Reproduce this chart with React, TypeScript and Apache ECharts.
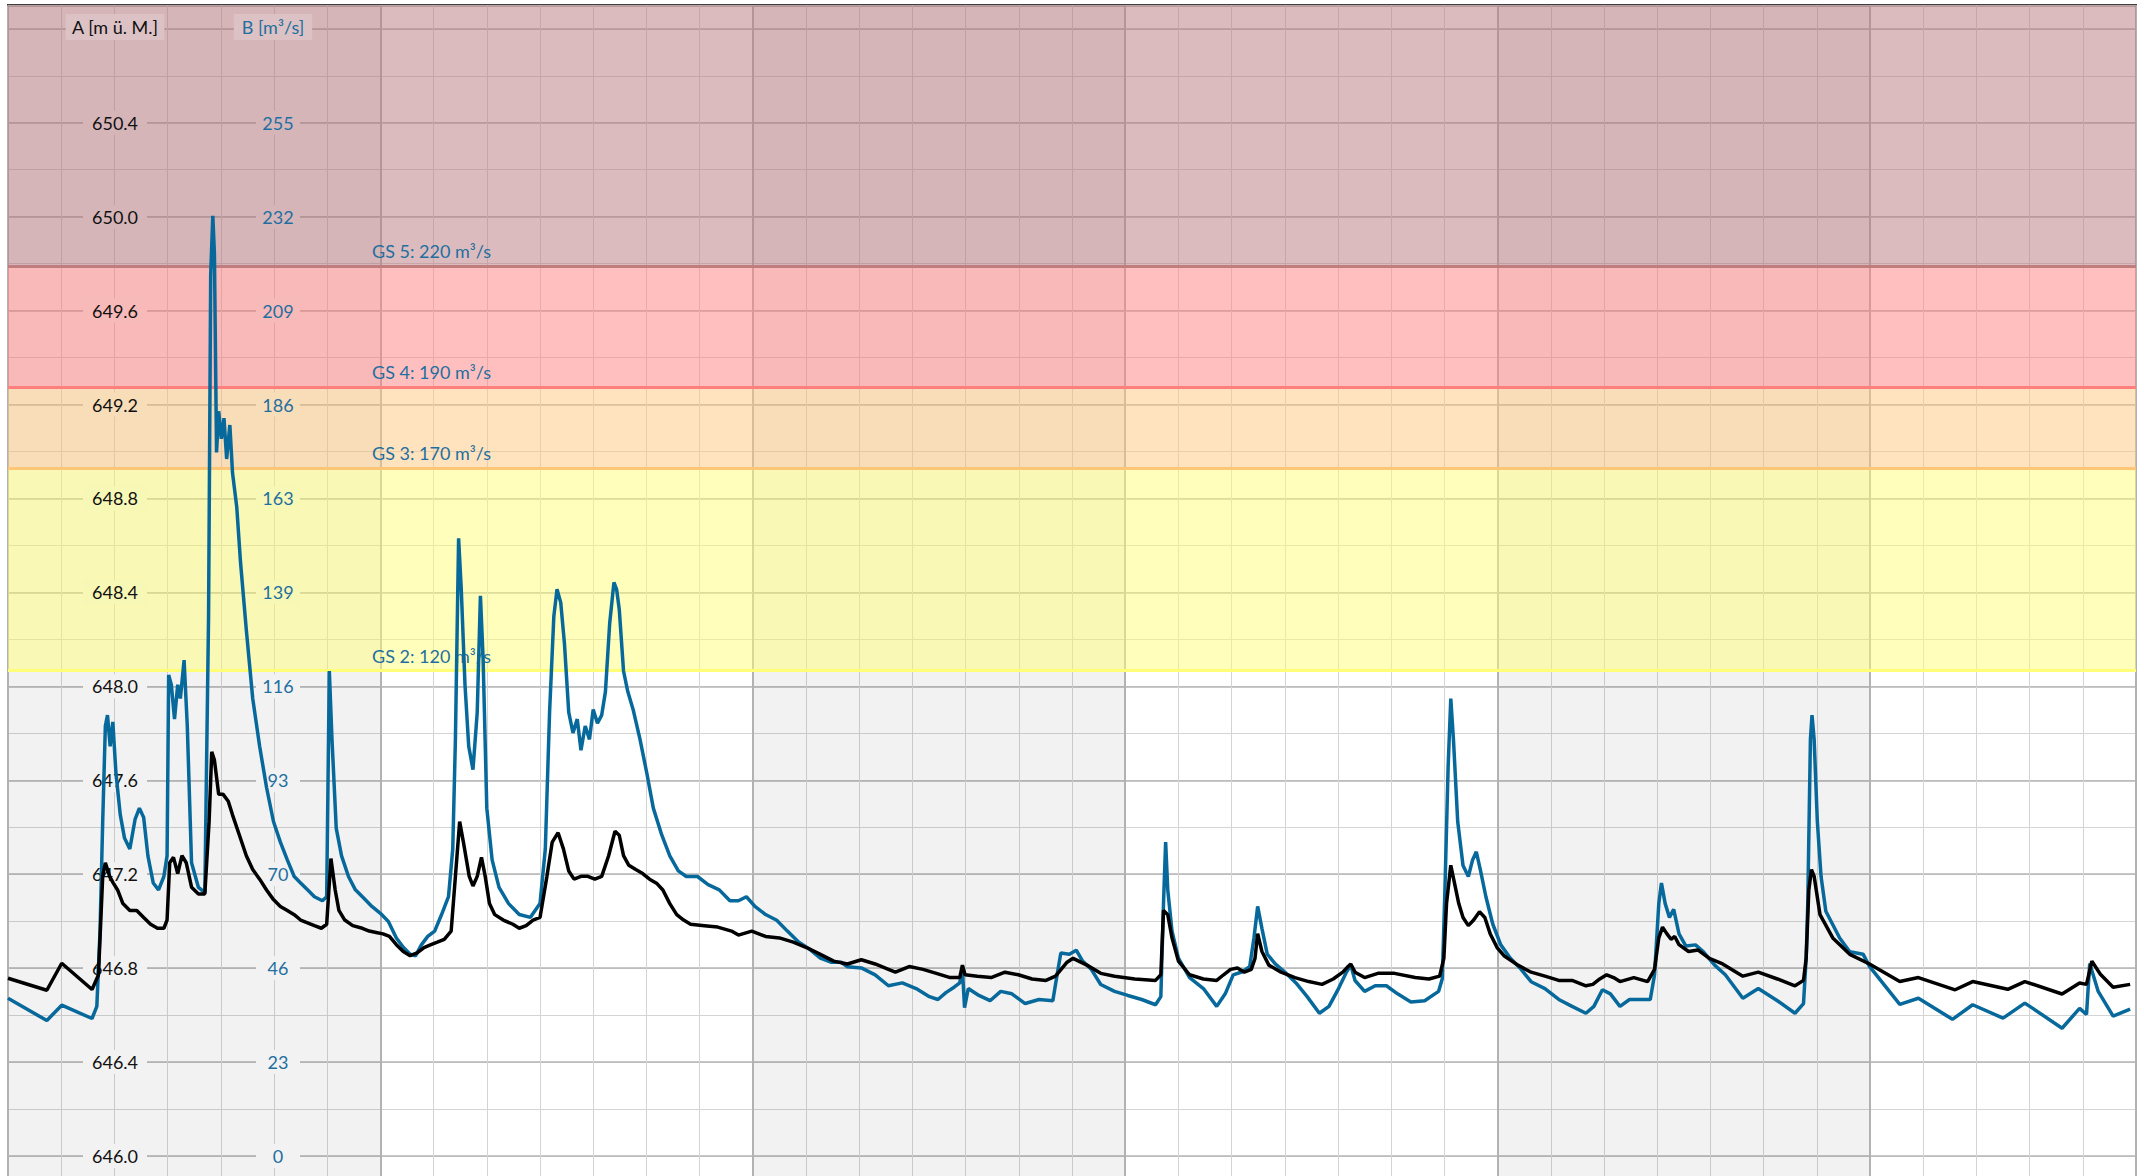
import React, { useEffect, useRef } from "react";
import * as echarts from "echarts";

// ---- data (x = days since start of the shown period) ----
const A_DAYS = [
  0.0, 0.73, 1.01, 1.58, 1.7, 1.78, 1.83, 1.91, 1.98, 2.06, 2.16, 2.29, 2.42, 2.55, 2.68, 2.81, 2.93, 2.99,
  3.04, 3.11, 3.19, 3.27, 3.35, 3.45, 3.58, 3.7, 3.78, 3.83, 3.88, 3.96, 4.04, 4.14, 4.22, 4.35, 4.48, 4.6,
  4.73, 4.86, 4.99, 5.12, 5.25, 5.38, 5.5, 5.63, 5.76, 5.89, 5.99, 6.07, 6.15, 6.22, 6.33, 6.48, 6.66, 6.79,
  6.92, 7.05, 7.17, 7.3, 7.43, 7.56, 7.69, 7.82, 7.95, 8.07, 8.2, 8.33, 8.41, 8.49, 8.56, 8.67, 8.74, 8.82,
  8.9, 8.97, 9.05, 9.15, 9.31, 9.49, 9.61, 9.74, 9.87, 10.0, 10.13, 10.23, 10.34, 10.44, 10.54, 10.64, 10.77,
  10.9, 11.03, 11.16, 11.29, 11.41, 11.49, 11.57, 11.67, 11.8, 11.93, 12.06, 12.19, 12.31, 12.44, 12.57,
  12.7, 12.83, 13.09, 13.34, 13.6, 13.73, 13.98, 14.24, 14.5, 14.76, 15.01, 15.27, 15.52, 15.78, 16.04,
  16.3, 16.55, 16.68, 16.94, 17.2, 17.45, 17.71, 17.89, 17.94, 17.99, 18.22, 18.48, 18.74, 18.99, 19.25,
  19.51, 19.69, 19.9, 20.02, 20.28, 20.54, 20.8, 21.18, 21.57, 21.67, 21.72, 21.8, 21.88, 22.0, 22.21,
  22.47, 22.72, 22.85, 22.98, 23.11, 23.24, 23.37, 23.44, 23.49, 23.57, 23.7, 23.93, 24.19, 24.45, 24.7,
  24.91, 25.09, 25.19, 25.24, 25.32, 25.5, 25.75, 26.06, 26.45, 26.71, 26.91, 26.99, 27.04, 27.12, 27.19,
  27.27, 27.35, 27.45, 27.55, 27.66, 27.76, 27.86, 27.99, 28.12, 28.38, 28.63, 28.89, 29.15, 29.4, 29.66,
  29.79, 29.92, 30.05, 30.18, 30.3, 30.56, 30.82, 30.95, 31.03, 31.1, 31.18, 31.26, 31.33, 31.41, 31.59,
  31.77, 31.98, 32.23, 32.61, 32.9, 33.26, 33.59, 33.75, 33.8, 33.85, 33.9, 33.95, 34.06, 34.3, 34.62,
  34.99, 35.56, 35.91, 36.6, 36.93, 37.59, 37.91, 38.61, 38.94, 39.07, 39.17, 39.33, 39.57, 39.89,
];
const A_LEVEL = [
  646.757, 646.706, 646.821, 646.709, 646.771, 647.191, 647.249, 647.191, 647.162, 647.133, 647.075, 647.046,
  647.046, 647.016, 646.987, 646.97, 646.97, 647.005, 647.249, 647.272, 647.203, 647.279, 647.249, 647.145,
  647.116, 647.116, 647.424, 647.721, 647.686, 647.541, 647.541, 647.511, 647.453, 647.366, 647.279, 647.22,
  647.179, 647.133, 647.092, 647.063, 647.046, 647.028, 647.005, 646.993, 646.981, 646.97, 646.987, 647.267,
  647.133, 647.046, 647.005, 646.981, 646.97, 646.958, 646.952, 646.946, 646.935, 646.9, 646.871, 646.853,
  646.865, 646.888, 646.9, 646.911, 646.923, 646.958, 647.191, 647.424, 647.337, 647.191, 647.15, 647.191,
  647.272, 647.191, 647.075, 647.028, 647.005, 646.987, 646.97, 646.981, 647.005, 647.016, 647.191, 647.337,
  647.377, 647.308, 647.214, 647.179, 647.191, 647.191, 647.179, 647.191, 647.279, 647.383, 647.366, 647.279,
  647.238, 647.22, 647.203, 647.179, 647.162, 647.133, 647.075, 647.028, 647.005, 646.987, 646.981, 646.975,
  646.958, 646.941, 646.958, 646.935, 646.929, 646.911, 646.888, 646.859, 646.83, 646.818, 646.836, 646.818,
  646.795, 646.783, 646.807, 646.795, 646.778, 646.76, 646.76, 646.813, 646.772, 646.766, 646.76, 646.783,
  646.772, 646.754, 646.748, 646.766, 646.824, 646.842, 646.813, 646.778, 646.766, 646.754, 646.748, 646.772,
  647.046, 647.028, 646.929, 646.83, 646.772, 646.754, 646.748, 646.772, 646.795, 646.801, 646.783, 646.795,
  646.842, 646.947, 646.871, 646.813, 646.783, 646.76, 646.743, 646.731, 646.754, 646.783, 646.807, 646.818,
  646.783, 646.76, 646.778, 646.778, 646.76, 646.754, 646.766, 646.842, 647.075, 647.238, 647.162, 647.075,
  647.016, 646.981, 647.005, 647.04, 647.016, 646.947, 646.888, 646.853, 646.813, 646.783, 646.766, 646.748,
  646.748, 646.725, 646.731, 646.754, 646.772, 646.76, 646.743, 646.76, 646.743, 646.795, 646.929, 646.975,
  646.947, 646.923, 646.935, 646.9, 646.871, 646.877, 646.842, 646.818, 646.766, 646.783, 646.754, 646.725,
  646.748, 646.842, 647.133, 647.22, 647.191, 647.028, 646.929, 646.859, 646.818, 646.743, 646.76, 646.708,
  646.743, 646.71, 646.743, 646.69, 646.737, 646.731, 646.83, 646.774, 646.719, 646.731,
];

const B_DAYS = [
  0.0, 0.73, 1.01, 1.58, 1.67, 1.73, 1.78, 1.83, 1.87, 1.92, 1.97, 2.03, 2.11, 2.19, 2.29, 2.39, 2.47, 2.55,
  2.63, 2.73, 2.83, 2.93, 2.99, 3.02, 3.07, 3.13, 3.19, 3.24, 3.31, 3.37, 3.45, 3.58, 3.7, 3.77, 3.81, 3.85,
  3.88, 3.92, 3.96, 4.01, 4.06, 4.11, 4.17, 4.22, 4.3, 4.37, 4.48, 4.6, 4.73, 4.86, 4.99, 5.12, 5.25, 5.38,
  5.5, 5.63, 5.76, 5.91, 5.99, 6.04, 6.09, 6.17, 6.27, 6.4, 6.53, 6.69, 6.84, 7.0, 7.15, 7.3, 7.43, 7.56,
  7.66, 7.77, 7.89, 8.02, 8.15, 8.28, 8.36, 8.41, 8.47, 8.52, 8.59, 8.66, 8.74, 8.82, 8.88, 8.93, 9.0, 9.1,
  9.23, 9.41, 9.61, 9.82, 10.0, 10.1, 10.18, 10.26, 10.32, 10.39, 10.46, 10.54, 10.62, 10.7, 10.77, 10.85,
  10.93, 11.0, 11.08, 11.16, 11.23, 11.31, 11.39, 11.44, 11.49, 11.57, 11.65, 11.75, 11.88, 12.01, 12.13,
  12.29, 12.44, 12.6, 12.75, 12.96, 13.16, 13.37, 13.57, 13.73, 13.88, 14.04, 14.24, 14.45, 14.65, 14.86,
  15.06, 15.27, 15.48, 15.66, 15.78, 16.04, 16.3, 16.55, 16.81, 17.07, 17.32, 17.48, 17.63, 17.79, 17.89,
  17.94, 17.98, 18.05, 18.25, 18.46, 18.66, 18.87, 19.12, 19.38, 19.64, 19.72, 19.79, 19.95, 20.08, 20.2,
  20.36, 20.54, 20.8, 21.05, 21.31, 21.57, 21.67, 21.72, 21.76, 21.8, 21.88, 22.0, 22.21, 22.47, 22.72,
  22.88, 23.03, 23.19, 23.34, 23.42, 23.49, 23.57, 23.67, 23.82, 24.0, 24.21, 24.42, 24.65, 24.83, 25.01,
  25.16, 25.24, 25.32, 25.5, 25.7, 25.91, 26.12, 26.37, 26.63, 26.89, 26.96, 27.01, 27.07, 27.12, 27.17,
  27.25, 27.35, 27.45, 27.53, 27.6, 27.68, 27.78, 27.91, 28.06, 28.24, 28.42, 28.63, 28.89, 29.15, 29.4,
  29.66, 29.81, 29.97, 30.12, 30.3, 30.48, 30.69, 30.87, 30.95, 31.03, 31.08, 31.15, 31.23, 31.31, 31.41,
  31.54, 31.72, 31.87, 32.08, 32.28, 32.61, 32.9, 33.26, 33.59, 33.75, 33.8, 33.83, 33.88, 33.91, 33.95,
  34.01, 34.08, 34.17, 34.43, 34.62, 34.87, 34.99, 35.56, 35.91, 36.55, 36.93, 37.5, 37.91, 38.06, 38.61,
  38.94, 39.07, 39.13, 39.29, 39.57, 39.89,
];
const B_FLOW = [
  39.0, 33.5, 37.3, 34.0, 37.0, 55.6, 82.7, 106.3, 109.0, 101.3, 107.3, 94.5, 84.4, 78.6, 75.9, 83.3, 86.0,
  83.7, 74.2, 67.5, 65.8, 69.1, 74.2, 118.9, 116.5, 108.0, 116.5, 113.1, 122.6, 106.3, 72.5, 66.4, 65.1,
  133.4, 217.9, 232.4, 223.0, 173.9, 184.1, 177.3, 182.4, 172.3, 180.7, 168.9, 160.4, 146.9, 130.0, 113.1,
  101.3, 91.1, 82.7, 77.6, 73.2, 69.1, 67.5, 65.8, 64.1, 63.1, 64.1, 119.9, 103.0, 81.0, 74.2, 69.1, 65.8,
  63.7, 61.7, 60.0, 58.0, 53.9, 51.6, 49.9, 49.5, 52.2, 54.3, 55.6, 59.7, 64.1, 75.9, 103.0, 152.7, 140.1,
  116.5, 101.3, 95.5, 109.7, 138.5, 123.2, 86.0, 73.2, 66.4, 62.4, 59.7, 59.0, 62.4, 75.9, 109.7, 133.4,
  140.1, 136.8, 126.6, 109.7, 104.6, 108.0, 100.3, 106.3, 103.0, 110.4, 107.0, 109.0, 114.8, 131.7, 141.8,
  140.1, 135.1, 119.9, 114.8, 110.4, 103.0, 94.5, 86.0, 79.3, 74.2, 70.5, 69.1, 69.1, 67.1, 65.8, 63.1,
  63.1, 64.1, 61.7, 59.7, 58.3, 55.6, 52.9, 51.2, 48.9, 47.9, 47.9, 46.8, 46.5, 44.8, 42.1, 42.8, 41.4,
  39.4, 38.7, 40.4, 41.8, 42.8, 46.2, 36.7, 41.4, 39.7, 38.4, 40.7, 40.1, 37.7, 38.7, 38.4, 44.8, 50.2,
  49.9, 50.9, 48.2, 46.2, 42.4, 40.7, 39.7, 38.7, 37.4, 39.4, 62.4, 77.6, 65.8, 55.6, 48.9, 44.1, 41.4,
  37.0, 40.1, 44.8, 45.5, 46.8, 53.9, 61.7, 56.3, 49.9, 47.5, 45.5, 42.8, 39.4, 35.3, 37.0, 41.4, 45.5,
  47.2, 43.4, 40.7, 42.1, 42.1, 40.1, 38.1, 38.4, 40.7, 43.8, 65.8, 96.2, 113.1, 103.0, 82.7, 71.8, 69.1,
  73.2, 75.2, 70.5, 64.1, 57.3, 52.2, 48.9, 46.5, 43.1, 41.4, 38.7, 37.0, 35.3, 37.0, 41.1, 40.1, 37.0,
  38.7, 38.7, 38.7, 44.8, 62.4, 67.5, 62.4, 59.0, 61.0, 54.9, 51.9, 52.2, 50.5, 47.2, 44.8, 39.0, 41.4,
  38.4, 35.3, 37.7, 48.9, 62.4, 103.0, 109.0, 103.0, 82.7, 69.1, 60.5, 53.9, 50.5, 49.9, 46.9, 37.5, 39.0,
  33.8, 37.4, 34.1, 37.8, 36.5, 31.6, 36.5, 35.0, 47.6, 40.7, 34.6, 36.3,
];

// warning thresholds (m³/s)
const GS_LEVELS = [120, 170, 190, 220];
const GS_NAMES = ["GS 2", "GS 3", "GS 4", "GS 5"];
const GS_FILLS = [
  "rgba(255,255,120,0.5)",
  "rgba(255,200,128,0.5)",
  "rgba(255,128,128,0.5)",
  "rgba(185,120,128,0.5)",
];
const GS_LINES = ["#ffff78", "#ffc677", "#ff7f7f", "#bf7d7e"];

// axes
const A_MIN = 645.6;
const A_MAX = 650.9;
const A_STEP = 0.4;
const A_LABEL_TOP = 650.4;
const FACTOR = 58.05; // m³/s per m of the left scale, 646.0 m = 0 m³/s
const B_MIN = -23.22;
const B_MAX = 284.445;
const B_STEP = 23.22;
const B_LABEL_TOP = 256;
const DAY_MAX = 40;

const FONT = "Lato";

function bandKey(b: number) {
  if (b >= 220) return "p";
  if (b >= 190) return "r";
  if (b >= 170) return "o";
  if (b >= 120) return "y";
  return "g";
}

function richFor(color: string, width?: number) {
  const base: any = { color, fontFamily: FONT, fontSize: 18, padding: [3, 9], lineHeight: 20, align: "center" };
  if (width) base.width = width;
  return {
    g: { ...base, backgroundColor: "#f2f2f2" },
    y: { ...base, backgroundColor: "#f8f8b6" },
    o: { ...base, backgroundColor: "#f8ddb9" },
    r: { ...base, backgroundColor: "#f8b9b9" },
    p: { ...base, backgroundColor: "#d6b5b9" },
  };
}

export default function App() {
  const ref = useRef<HTMLDivElement>(null);

  useEffect(() => {
    if (!ref.current) return;
    const chart = echarts.init(ref.current, undefined, { renderer: "svg" });

    const hiddenAxis = {
      axisLine: { show: false },
      axisTick: { show: false },
      axisLabel: { show: false },
    };

    const option: any = {
      animation: false,
      grid: {
        left: 8,
        right: 8,
        top: 5.3,
        bottom: 0,
        show: true,
        borderColor: "#000",
        borderWidth: 2,
        backgroundColor: "#fff",
      },
      xAxis: [
        {
          type: "value",
          min: 0,
          max: DAY_MAX,
          interval: 1,
          ...hiddenAxis,
          splitLine: { show: true, lineStyle: { color: "#d4d4d4", width: 1 } },
        },
        {
          type: "value",
          min: 0,
          max: DAY_MAX,
          interval: 7,
          ...hiddenAxis,
          splitLine: { show: true, lineStyle: { color: "#b2b2b2", width: 2 } },
          splitArea: { show: true, areaStyle: { color: ["rgba(0,0,0,0.05)", "rgba(0,0,0,0)"] } },
        },
      ],
      yAxis: [
        {
          type: "value",
          min: A_MIN,
          max: A_MAX,
          interval: A_STEP / 2,
          ...hiddenAxis,
          splitLine: { show: true, lineStyle: { color: "#d4d4d4", width: 1 } },
        },
        {
          type: "value",
          min: A_MIN,
          max: A_MAX,
          interval: A_STEP,
          ...hiddenAxis,
          splitLine: { show: true, lineStyle: { color: "#b6b6b6", width: 1.5 } },
        },
        {
          type: "value",
          min: A_MIN,
          max: A_MAX,
          interval: A_STEP,
          position: "left",
          z: 1.8,
          axisLine: { show: false },
          axisTick: { show: false },
          splitLine: { show: false },
          axisLabel: {
            inside: true,
            margin: 107,
            align: "center",
            showMaxLabel: false,
            showMinLabel: false,
            formatter: (v: number) =>
              v > A_LABEL_TOP + 0.01 ? "" : `{${bandKey((v - 646) * FACTOR)}|${v.toFixed(1)}}`,
            rich: richFor("#111111"),
          },
        },
        {
          type: "value",
          min: B_MIN,
          max: B_MAX,
          interval: B_STEP,
          position: "left",
          z: 1.8,
          axisLine: { show: false },
          axisTick: { show: false },
          splitLine: { show: false },
          axisLabel: {
            inside: true,
            margin: 270,
            align: "center",
            showMaxLabel: false,
            showMinLabel: false,
            formatter: (v: number) => (v > B_LABEL_TOP ? "" : `{${bandKey(v)}|${Math.round(v)}}`),
            rich: richFor("#1f6fa0", 26),
          },
        },
      ],
      graphic: [
        {
          type: "text",
          x: 115,
          y: 27,
          z: 10,
          style: {
            text: "A [m ü. M.]",
            fill: "#111111",
            font: `18px ${FONT}`,
            align: "center",
            verticalAlign: "middle",
            backgroundColor: "#dcc2c4",
            padding: [4, 6],
          },
        },
        {
          type: "text",
          x: 273,
          y: 27,
          z: 10,
          style: {
            text: "B [m³/s]",
            fill: "#1f6fa0",
            font: `18px ${FONT}`,
            align: "center",
            verticalAlign: "middle",
            backgroundColor: "#dcc2c4",
            padding: [4, 8],
          },
        },
      ],
      series: [
        {
          type: "line",
          name: "B",
          xAxisIndex: 0,
          yAxisIndex: 3,
          data: B_DAYS.map((d, i) => [d, B_FLOW[i]]),
          showSymbol: false,
          symbol: "none",
          lineStyle: { color: "#07699b", width: 3.5 },
          z: 2,
          markArea: {
            silent: true,
            z: 1,
            data: GS_LEVELS.map((lv, i) => [
              { yAxis: lv, itemStyle: { color: GS_FILLS[i] } },
              { yAxis: i < GS_LEVELS.length - 1 ? GS_LEVELS[i + 1] : B_MAX },
            ]),
          },
          markLine: {
            silent: true,
            z: 1.5,
            symbol: "none",
            data: GS_LEVELS.map((lv, i) => ({
              yAxis: lv,
              lineStyle: { color: GS_LINES[i], width: 3, type: "solid" },
              label: {
                show: true,
                position: "insideStartTop",
                distance: [364, 6],
                formatter: `${GS_NAMES[i]}: ${lv} m³/s`,
                color: "#1f6fa0",
                fontFamily: FONT,
                fontSize: 18,
              },
            })),
          },
        },
        {
          type: "line",
          name: "A",
          xAxisIndex: 0,
          yAxisIndex: 2,
          data: A_DAYS.map((d, i) => [d, A_LEVEL[i]]),
          showSymbol: false,
          symbol: "none",
          lineStyle: { color: "#000000", width: 3.5 },
          z: 3,
        },
      ],
    };

    chart.setOption(option);
    return () => chart.dispose();
  }, []);

  return (
    <div style={{ position: "absolute", left: 0, top: 0, width: 2144, height: 1176, overflow: "hidden" }}>
      <div ref={ref} style={{ width: 2144, height: 1250 }} />
    </div>
  );
}
